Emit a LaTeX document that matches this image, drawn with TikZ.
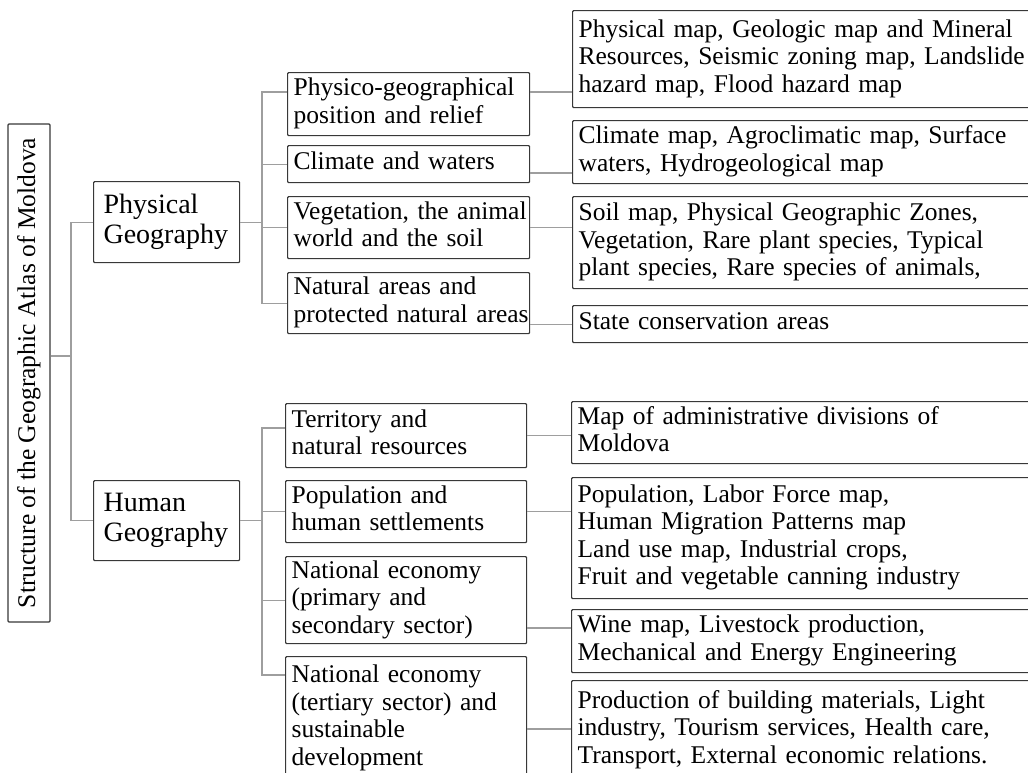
\documentclass[tikz,border=0pt]{standalone}
\usepackage{fontspec}
\setmainfont{Liberation Serif}
\newcommand\lns[1]{\begin{tabular}{@{}l@{}}#1\end{tabular}}
\begin{document}
\begin{tikzpicture}[x=1pt,y=-1pt,
  box/.style={draw=black!78, line width=1.2pt, rounded corners=1pt, anchor=north west,
    inner xsep=6pt, inner ysep=0pt, align=left,
    font=\fontsize{25.5}{27.5}\selectfont},
  bigbox/.style={box, inner xsep=10pt, font=\fontsize{28}{30}\selectfont},
  titlebox/.style={draw=black!78, line width=1.2pt, rounded corners=1pt, inner sep=0pt,
    font=\fontsize{25.5}{27.5}\selectfont},
  conn/.style={draw=black!38, line width=1.1pt}]
\useasboundingbox (0,0) rectangle (1028,772);

% title
\node[titlebox, minimum width=42pt, minimum height=498pt] (title) at (29,373)
  {\rotatebox{90}{Structure of the Geographic Atlas of Moldova}};

% level 1
\node[bigbox, minimum width=146pt, minimum height=81pt, text width=126pt] (phys) at (93,181)
  {\lns{Physical\\Geography}};
\node[bigbox, minimum width=146pt, minimum height=80pt, text width=126pt] (hum) at (93,480)
  {\lns{Human\\Geography}};

% level 2 physical
\node[box, minimum width=242pt, minimum height=63pt, text width=230pt] (pm1) at (287,72)
  {\lns{Physico-geographical\\position and relief}};
\node[box, minimum width=242pt, minimum height=37pt, text width=230pt] (pm2) at (287,145)
  {\lns{Climate and waters}};
\node[box, minimum width=242pt, minimum height=62pt, text width=230pt] (pm3) at (287,196)
  {\lns{Vegetation, the animal\\world and the soil}};
\node[box, minimum width=242pt, minimum height=61pt, text width=230pt] (pm4) at (287,272)
  {\lns{Natural areas and\\protected natural areas}};

% level 2 human
\node[box, minimum width=241pt, minimum height=64pt, text width=229pt] (hm1) at (285,403)
  {\lns{Territory and\\natural resources}};
\node[box, minimum width=241pt, minimum height=62pt, text width=229pt] (hm2) at (285,480)
  {\lns{Population and\\human settlements}};
\node[box, minimum width=241pt, minimum height=87pt, text width=229pt] (hm3) at (285,556)
  {\lns{National economy\\(primary and\\secondary sector)}};
\node[box, minimum width=241pt, minimum height=124pt, text width=229pt] (hm4) at (285,656)
  {\lns{National economy\\(tertiary sector) and\\sustainable\\development}};

% level 3
\node[box, minimum width=468pt, minimum height=97pt, text width=456pt] (r1) at (572,10)
  {\lns{Physical map, Geologic map and Mineral\\Resources, Seismic zoning map, Landslide\\hazard map, Flood hazard map}};
\node[box, minimum width=468pt, minimum height=63pt, text width=456pt] (r2) at (572,120)
  {\lns{Climate map, Agroclimatic map, Surface\\waters, Hydrogeological map}};
\node[box, minimum width=468pt, minimum height=92pt, text width=456pt] (r3) at (572,196)
  {\lns{Soil map, Physical Geographic Zones,\\Vegetation, Rare plant species, Typical\\plant species, Rare species of animals,}};
\node[box, minimum width=468pt, minimum height=37pt, text width=456pt] (r4) at (572,305)
  {\lns{State conservation areas}};
\node[box, minimum width=469pt, minimum height=62pt, text width=457pt] (r5) at (571,401)
  {\lns{Map of administrative divisions of\\Moldova}};
\node[box, minimum width=469pt, minimum height=121pt, text width=457pt] (r6) at (571,477)
  {\lns{Population, Labor Force map,\\Human Migration Patterns map\\Land use map, Industrial crops,\\Fruit and vegetable canning industry}};
\node[box, minimum width=469pt, minimum height=63pt, text width=457pt] (r7) at (571,609)
  {\lns{Wine map, Livestock production,\\Mechanical and Energy Engineering}};
\node[box, minimum width=469pt, minimum height=99pt, text width=457pt] (r8) at (571,680)
  {\lns{Production of building materials, Light\\industry, Tourism services, Health care,\\Transport, External economic relations.}};

% connectors
\coordinate (j0) at (71,356);
\coordinate (j1) at (262,0);
\coordinate (a1) at (0,92);
\coordinate (a2) at (0,173);
\coordinate (a3) at (0,428);
\coordinate (a4) at (0,675);
\coordinate (a5) at (0,628);
\coordinate (a6) at (0,729);

\draw[conn] (title.east |- j0) -- (j0);
\draw[conn] (phys.west) -- (j0 |- phys.west) -- (j0 |- hum.west) -- (hum.west);

\draw[conn] (phys.east) -- (phys.east -| j1);
\draw[conn] (pm1.west |- a1) -- (j1 |- a1) -- (j1 |- pm4.west) -- (pm4.west);
\draw[conn] (j1 |- pm2.west) -- (pm2.west);
\draw[conn] (j1 |- pm3.west) -- (pm3.west);

\draw[conn] (pm1.east |- a1) -- (r1.west |- a1);
\draw[conn] (pm2.east |- a2) -- (r2.west |- a2);
\draw[conn] (pm3.east) -- (pm3.east -| r3.west);
\draw[conn] (r4.west -| pm4.east) -- (r4.west);

\draw[conn] (hum.east) -- (hum.east -| j1);
\draw[conn] (hm1.west |- a3) -- (j1 |- a3) -- (j1 |- a4) -- (hm4.west |- a4);
\draw[conn] (j1 |- hm2.west) -- (hm2.west);
\draw[conn] (j1 |- hm3.west) -- (hm3.west);

\draw[conn] (hm1.east) -- (hm1.east -| r5.west);
\draw[conn] (hm2.east) -- (hm2.east -| r6.west);
\draw[conn] (hm3.east |- a5) -- (r7.west |- a5);
\draw[conn] (hm4.east |- a6) -- (r8.west |- a6);
\end{tikzpicture}
\end{document}
